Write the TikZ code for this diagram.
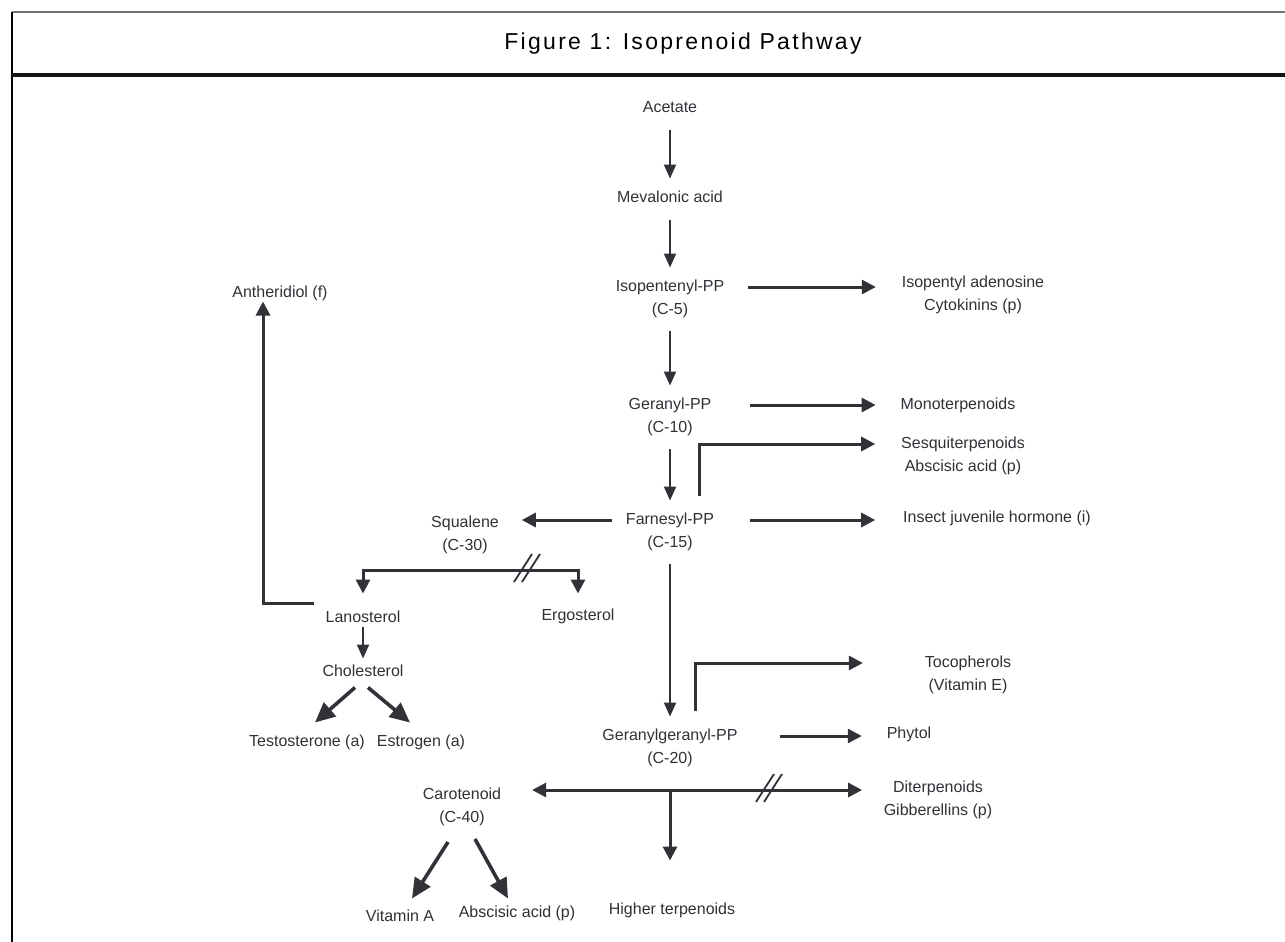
\documentclass[tikz,border=0pt]{standalone}
\usepackage{fontspec}
\setmainfont{Liberation Sans}
\newfontfamily\headfont[LetterSpace=10]{Liberation Sans}
\usetikzlibrary{arrows.meta,positioning}
\definecolor{ink}{RGB}{48,50,56}
\definecolor{rulecol}{RGB}{20,20,20}
\tikzset{
  >={Triangle[length=7pt,width=6pt]},
  lbl/.style={
    inner sep=0pt, outer sep=0pt, text height=6pt, text depth=1.5pt,
    font=\fontsize{8}{10}\selectfont, text=ink
  },
  flow/.style={->, draw=ink, line width=1pt, shorten <=7pt, shorten >=6pt},
  side/.style={->, draw=ink, line width=1.5pt, >={Triangle[length=7pt,width=7pt]}},
  fat/.style={->, draw=ink, line width=1.8pt, >={Triangle[length=10pt,width=9pt]}},
  cut/.style={draw=ink, line width=0.9pt},
}

\begin{document}
\begin{tikzpicture}[x=0.5pt, y=-0.5pt, node distance=3.75pt, every node/.style={lbl}]
  \fill[white] (0,0) rectangle (1285,942);
  \useasboundingbox (0,0) rectangle (1285,942);
  % frame
  \draw[black!55, line width=0.6pt] (12,12) -- (1285,12);
  \draw[black, line width=0.8pt] (12,12) -- (12,942);
  \draw[rulecol, line width=1.6pt] (12,75) -- (1285,75);
  \node[font=\headfont\fontsize{11.5}{13}\selectfont, text=black, text height=8.5pt, text depth=2pt] (title) at (683,43) {Figure 1: Isoprenoid Pathway};

  % main column
  \node (ace) at (670,108) {Acetate};
  \node (mev) at (670,198) {Mevalonic acid};
  \node (ipp) at (670,287) {Isopentenyl-PP};
  \node[below=of ipp] (ippc) {(C-5)};
  \node (gpp) at (670,405) {Geranyl-PP};
  \node[below=of gpp] (gppc) {(C-10)};
  \node (fpp) at (670,520) {Farnesyl-PP};
  \node[below=of fpp] (fppc) {(C-15)};
  \node (ggpp) at (670,736) {Geranylgeranyl-PP};
  \node[below=of ggpp] (ggppc) {(C-20)};
  \node (hig) at (672,910) {Higher terpenoids};

  % right side
  \node (ipa) at (973,283) {Isopentyl adenosine};
  \node[below=of ipa] (ipac) {Cytokinins (p)};
  \node (mono) at (958,405) {Monoterpenoids};
  \node (sesq) at (963,444) {Sesquiterpenoids};
  \node[below=of sesq] (sesqc) {Abscisic acid (p)};
  \node (ijh) at (997,518) {Insect juvenile hormone (i)};
  \node (toc) at (968,663) {Tocopherols};
  \node[below=of toc] (tocc) {(Vitamin E)};
  \node (phy) at (909,734) {Phytol};
  \node (dit) at (938,788) {Diterpenoids};
  \node[below=of dit] (ditc) {Gibberellins (p)};

  % left side
  \node (sq) at (465,523) {Squalene};
  \node[below=of sq] (sqc) {(C-30)};
  \node (anth) at (280,293) {Antheridiol (f)};
  \node (lan) at (363,618) {Lanosterol};
  \node (erg) at (578,616) {Ergosterol};
  \node (chol) at (363,672) {Cholesterol};
  \node (tes) at (307,742) {Testosterone (a)};
  \node (est) at (421,742) {Estrogen (a)};
  \node (car) at (462,795) {Carotenoid};
  \node[below=of car] (carc) {(C-40)};
  \node (vita) at (400,917) {Vitamin A};
  \node (aba) at (517,913) {Abscisic acid (p)};

  \coordinate (fork) at (470,570);
  \coordinate (cutA) at (528,569);
  \coordinate (junc) at (670,790);
  \coordinate (cutB) at (770,789);

  % main chain
  \draw[flow] (ace) -- (mev);
  \draw[flow] (mev) -- (ipp);
  \draw[flow] (ippc) -- (gpp);
  \draw[flow] (gppc) -- (fpp);
  \draw[flow] (fppc) -- (ggpp);

  % branches to the right
  \draw[side, shorten >=13pt] ([xshift=39pt]ipp.center) -- (ipa.west |- ipp.center);
  \draw[side, shorten >=12.5pt] ([xshift=40pt]gpp.center) -- (mono.west |- gpp.center);
  \draw[side, shorten >=13pt] ([shift={(29,-17)}]fpp.north) |- (sesq.west);
  \draw[side, shorten >=14pt] ([xshift=40pt]fpp.center) -- (ijh.west |- fpp.center);
  \draw[side, shorten >=31pt] ([shift={(25,-18)}]ggpp.north) |- (toc.west);
  \draw[side, shorten >=12.5pt] ([xshift=55pt]ggpp.center) -- (phy.west |- ggpp.center);

  % sterols
  \draw[side, shorten <=7pt, shorten >=11.5pt] (fpp) -- (sq.east |- fpp.center);
  \draw[side, <->, shorten <=8.5pt, shorten >=7.5pt] (lan.north) |- (fork) -| (erg.north);
  \draw[cut] ([shift={(-14,13)}]cutA) -- ([shift={(4,-15)}]cutA);
  \draw[cut] ([shift={(-6,13)}]cutA) -- ([shift={(12,-15)}]cutA);
  \draw[side, shorten >=0.5pt] ([shift={(-12,-15)}]lan.west) -| ([xshift=-8.5pt]anth.south);
  \draw[flow, shorten <=0.5pt, shorten >=3pt] (lan) -- (chol);
  \draw[fat] ([shift={(-8,8)}]chol.south) -- ([shift={(8,-12)}]tes.north);
  \draw[fat] ([shift={(5,8)}]chol.south) -- ([shift={(-11,-12)}]est.north);

  % C-20 and beyond
  \draw[side, <->, shorten <=15.5pt, shorten >=15.5pt] (car.east |- junc) -- (dit.west |- junc);
  \draw[cut] ([shift={(-14,13)}]cutB) -- ([shift={(4,-15)}]cutB);
  \draw[cut] ([shift={(-6,13)}]cutB) -- ([shift={(12,-15)}]cutB);
  \draw[side, shorten >=21pt] (junc) -- (hig.north -| junc);
  \draw[fat] ([shift={(-14,17)}]carc.south) -- ([shift={(12,-11)}]vita.north);
  \draw[fat] ([shift={(13,14)}]carc.south) -- ([shift={(-9,-7)}]aba.north);
\end{tikzpicture}
\end{document}
